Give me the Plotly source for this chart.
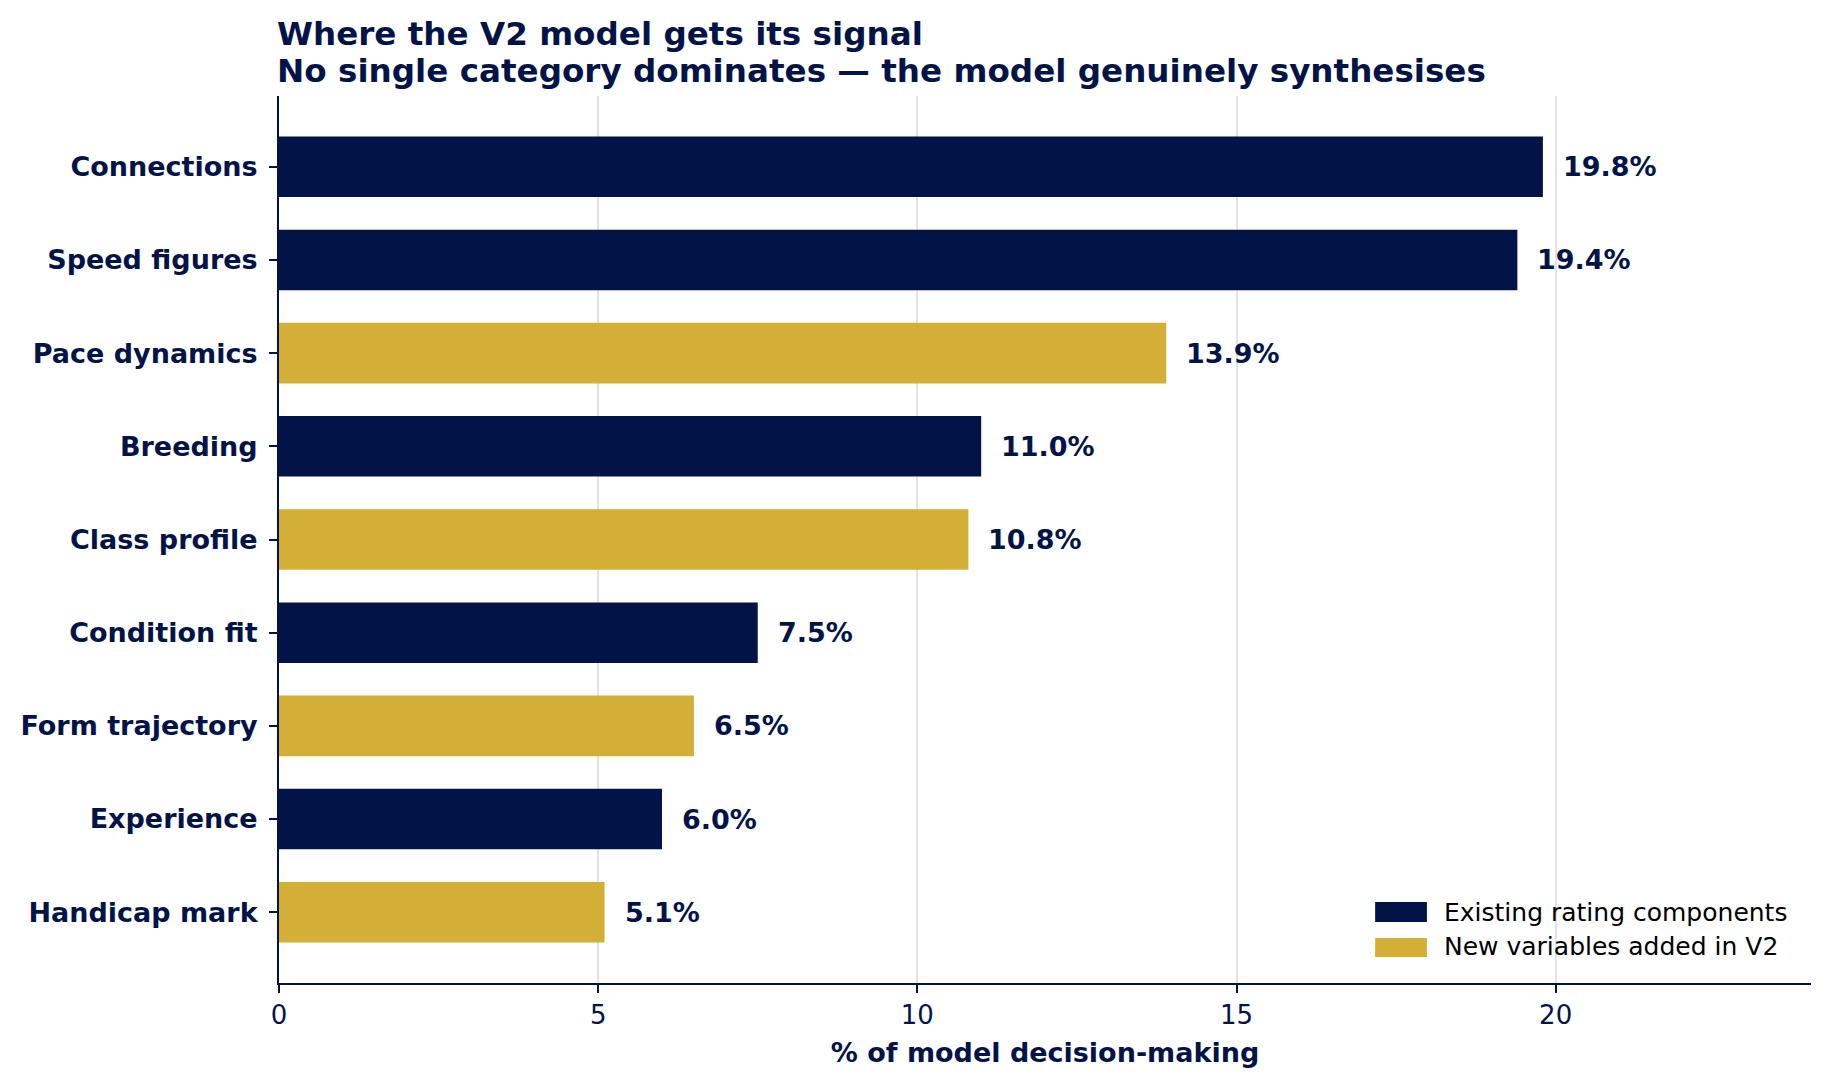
import plotly.graph_objects as go

# data (top to bottom, as shown)
categories = ["Connections", "Speed figures", "Pace dynamics", "Breeding", "Class profile",
              "Condition fit", "Form trajectory", "Experience", "Handicap mark"]
shares = [19.8, 19.4, 13.9, 11.0, 10.8, 7.5, 6.5, 6.0, 5.1]
is_new = [False, False, True, False, True, False, True, False, True]
group_names = ["Existing rating components", "New variables added in V2"]

NAVY = "#021447"
GOLD = "#D4AF37"
FONT = "DejaVu Sans"

fig = go.Figure()

for flag, name, colour in [(False, group_names[0], NAVY), (True, group_names[1], GOLD)]:
    cats = [c for c, n in zip(categories, is_new) if n == flag]
    vals = [v for v, n in zip(shares, is_new) if n == flag]
    fig.add_trace(go.Bar(
        x=vals, y=cats, orientation="h", name=name,
        marker=dict(color=colour, line=dict(width=0)),
        width=0.65, showlegend=False,
        hoverinfo="x+y",
    ))

# value labels at bar ends
for c, v in zip(categories, shares):
    fig.add_annotation(
        x=v, y=c, text=f"<b>{v:.1f}%</b>", showarrow=False,
        xanchor="left", yanchor="middle", xshift=18,
        font=dict(family=FONT, size=27, color=NAVY),
    )

# legend drawn by hand so the swatches are wide boxes like matplotlib's
legend_rows = [(0.0913, 0.0688, 0.080), (0.0507, 0.0293, 0.0406)]
for (y0, y1, yt), name, colour in zip(legend_rows, group_names, [NAVY, GOLD]):
    fig.add_shape(type="rect", xref="paper", yref="paper",
                  x0=0.7155, x1=0.7493, y0=y1, y1=y0,
                  fillcolor=colour, line=dict(width=0))
    fig.add_annotation(xref="paper", yref="paper", x=0.759, y=yt,
                       xanchor="left", yanchor="middle", showarrow=False,
                       text=name, font=dict(family=FONT, size=25, color="black"))

# two-line title
fig.add_annotation(xref="paper", yref="paper", x=0, y=1, yshift=62, xshift=-4,
                   xanchor="left", yanchor="middle", showarrow=False,
                   text="<b>Where the V2 model gets its signal</b>",
                   font=dict(family=FONT, size=32.6, color=NAVY))
fig.add_annotation(xref="paper", yref="paper", x=0, y=1, yshift=25, xshift=-4,
                   xanchor="left", yanchor="middle", showarrow=False,
                   text="<b>No single category dominates \u2014 the model genuinely synthesises</b>",
                   font=dict(family=FONT, size=32.6, color=NAVY))

fig.update_layout(
    width=1828, height=1085,
    margin=dict(l=267, r=25, t=88, b=110),
    paper_bgcolor="white", plot_bgcolor="white",
    barmode="overlay",
    font=dict(family=FONT, color=NAVY),
)

fig.update_xaxes(
    range=[0, 24], tickvals=[0, 5, 10, 15, 20],
    showgrid=True, gridcolor="#e3e3e3", gridwidth=1.5,
    zeroline=False,
    showline=True, linecolor=NAVY, linewidth=2,
    ticks="outside", ticklen=8, tickwidth=1.5, tickcolor=NAVY,
    tickfont=dict(family=FONT, size=26, color=NAVY),
    title=dict(text="<b>% of model decision-making</b>", standoff=14,
               font=dict(family=FONT, size=27, color=NAVY)),
)

fig.update_yaxes(
    type="category", categoryorder="array", categoryarray=categories,
    range=[8.76, -0.76],
    showgrid=False, zeroline=False,
    showline=True, linecolor=NAVY, linewidth=2,
    ticks="outside", ticklen=8, tickwidth=1.5, tickcolor=NAVY,
    ticklabelstandoff=6,
    tickfont=dict(family=FONT, size=27, color=NAVY, weight="bold"),
)

fig.write_html("out.html")
